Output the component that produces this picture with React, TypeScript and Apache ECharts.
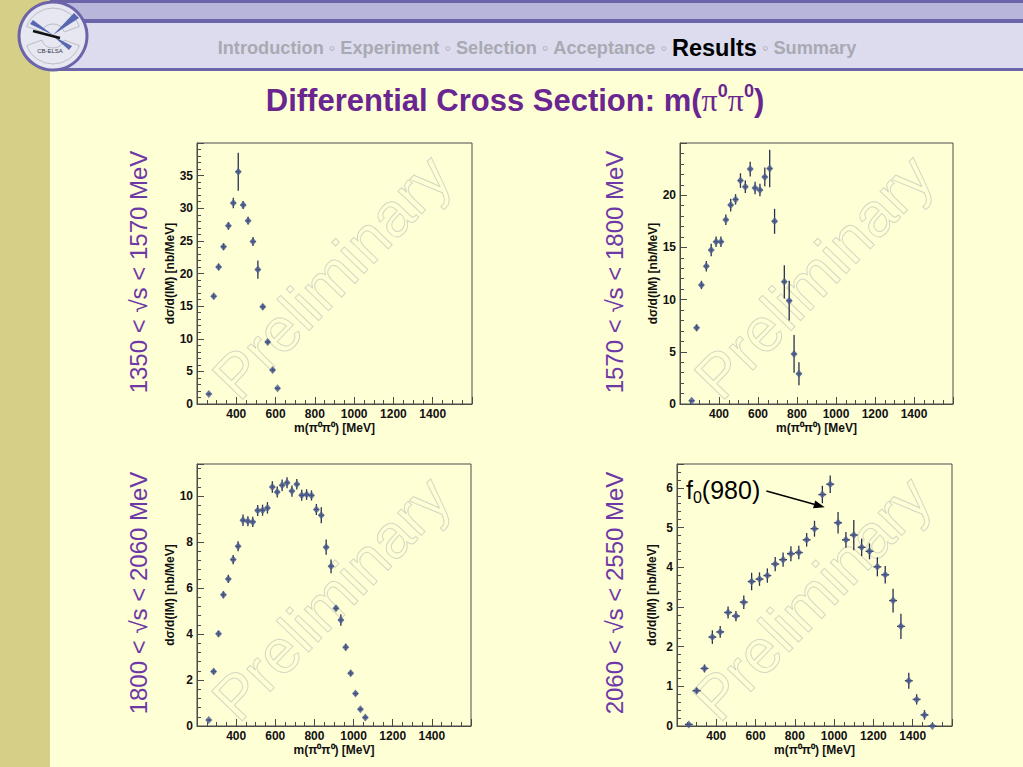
import React, { useEffect, useRef } from "react";
import * as echarts from "echarts";

// ---------- data ----------
const massA = [260, 285, 310, 335, 360, 385, 410, 435, 460, 485, 510, 535, 560, 585, 610];
const valA = [1.54, 16.5, 21.0, 24.1, 27.3, 30.8, 35.6, 30.5, 28.1, 24.9, 20.6, 14.9, 9.5, 5.2, 2.4];
const errA = [0.2, 0.4, 0.5, 0.5, 0.6, 0.8, 2.9, 0.6, 0.6, 0.7, 1.4, 0.4, 0.35, 0.3, 0.2];

const massB = [260, 285, 310, 335, 360, 385, 410, 435, 460, 485, 510, 535, 560, 585, 610, 635, 660, 685, 735, 760, 785, 810];
const valB = [0.32, 7.3, 11.4, 13.2, 14.75, 15.55, 15.55, 17.65, 19.05, 19.6, 21.4, 20.8, 22.5, 20.7, 20.5, 21.75, 22.55, 17.5, 11.7, 9.9, 4.8, 2.9];
const errB = [0.1, 0.3, 0.4, 0.5, 0.6, 0.5, 0.5, 0.5, 0.6, 0.5, 0.7, 0.6, 0.7, 0.6, 0.6, 0.9, 1.8, 1.2, 1.6, 1.9, 1.8, 1.1];

const massC = [260, 285, 310, 335, 360, 385, 410, 435, 460, 485, 510, 535, 560, 585, 610, 635, 660, 685, 710, 735, 760, 785, 810, 835, 860, 885, 910, 935, 960, 985, 1010, 1035, 1060];
const valC = [0.26, 2.37, 4.01, 5.71, 6.4, 7.24, 7.82, 8.95, 8.91, 8.88, 9.38, 9.39, 9.49, 10.4, 10.18, 10.48, 10.58, 10.22, 10.52, 10.04, 10.07, 10.03, 9.42, 9.17, 7.78, 6.95, 5.12, 4.61, 3.43, 2.3, 1.41, 0.73, 0.37];
const errC = [0.05, 0.1, 0.12, 0.15, 0.18, 0.2, 0.22, 0.25, 0.22, 0.22, 0.24, 0.24, 0.25, 0.25, 0.24, 0.25, 0.24, 0.24, 0.23, 0.24, 0.23, 0.22, 0.24, 0.35, 0.33, 0.3, 0.12, 0.25, 0.15, 0.12, 0.1, 0.08, 0.08];

const massD = [260, 300, 340, 380, 420, 460, 500, 540, 580, 620, 660, 700, 740, 780, 820, 860, 900, 940, 980, 1020, 1060, 1100, 1140, 1180, 1220, 1260, 1300, 1340, 1380, 1420, 1460, 1500];
const valD = [0.04, 0.89, 1.45, 2.24, 2.37, 2.86, 2.77, 3.12, 3.64, 3.7, 3.79, 4.08, 4.19, 4.34, 4.37, 4.69, 4.97, 5.83, 6.09, 5.12, 4.69, 4.81, 4.5, 4.4, 4.01, 3.81, 3.16, 2.51, 1.14, 0.67, 0.28, 0.0];
const errD = [0.03, 0.07, 0.1, 0.17, 0.15, 0.15, 0.13, 0.17, 0.22, 0.17, 0.18, 0.18, 0.18, 0.19, 0.17, 0.17, 0.2, 0.22, 0.22, 0.27, 0.2, 0.38, 0.22, 0.2, 0.24, 0.22, 0.3, 0.32, 0.2, 0.13, 0.12, 0.03];

const binHalfWidths = [12.5, 12.5, 12.5, 20];
const energyLabels = ["1350 < √s < 1570 MeV", "1570 < √s < 1800 MeV", "1800 < √s < 2060 MeV", "2060 < √s < 2550 MeV"];
const yMaxes = [40, 25, 11.4, 6.6];
const yIntervals = [5, 5, 2, 1];
const navItems = ["Introduction", "Experiment", "Selection", "Acceptance", "Results", "Summary"];
const activeNav = "Results";
const xAxisTitle = "m(π⁰π⁰) [MeV]";
const yAxisTitle = "dσ/d(IM) [nb/MeV]";
const arrowFrom = [655, 5.92];
const arrowTo = [952, 5.51];

// ---------- styling ----------
const FONT = "'Liberation Sans', Arial, Helvetica, sans-serif";
const grids = [
  { left: 197, top: 143, width: 275, height: 261 },
  { left: 680, top: 143, width: 273, height: 261 },
  { left: 197, top: 464, width: 274, height: 262 },
  { left: 677, top: 464, width: 275, height: 262 },
];
const sideLabelPos = [
  [138, 272],
  [614, 272],
  [138, 593],
  [614, 593],
];
const AXIS_COLOR = "#4a4a4a";
const MARKER = "#4b5b8f";
const ERR = "#283050";
const PURPLE_TITLE = "#6a2690";
const PURPLE_SIDE = "#6e38a6";

export default function App() {
  const ref = useRef<HTMLDivElement>(null);
  useEffect(() => {
    if (!ref.current) return;
    const chart = echarts.init(ref.current, undefined, { renderer: "svg" });

    const panels = [
      { mass: massA, val: valA, err: errA },
      { mass: massB, val: valB, err: errB },
      { mass: massC, val: valC, err: errC },
      { mass: massD, val: valD, err: errD },
    ];

    const labelStyle = { fontFamily: FONT, fontWeight: "bold" as const, fontSize: 12, color: "#111" };

    const xAxes = grids.map((_, i) => ({
      gridIndex: i,
      type: "value" as const,
      min: 200,
      max: 1600,
      interval: 200,
      name: xAxisTitle,
      nameLocation: "middle" as const,
      nameGap: 18,
      nameTextStyle: labelStyle,
      axisLine: { show: true, lineStyle: { color: AXIS_COLOR, width: 1 } },
      axisTick: { show: true, inside: true, length: 7, lineStyle: { color: AXIS_COLOR } },
      minorTick: { show: true, splitNumber: 4, length: 4, lineStyle: { color: AXIS_COLOR } },
      axisLabel: {
        ...labelStyle,
        margin: 4,
        showMinLabel: false,
        showMaxLabel: false,
        formatter: (v: number) => String(v),
      },
      splitLine: { show: false },
    }));

    const yAxes = grids.map((_, i) => ({
      gridIndex: i,
      type: "value" as const,
      min: 0,
      max: yMaxes[i],
      interval: yIntervals[i],
      name: yAxisTitle,
      nameLocation: "middle" as const,
      nameGap: 19,
      nameTextStyle: labelStyle,
      axisLine: { show: true, lineStyle: { color: AXIS_COLOR, width: 1 } },
      axisTick: { show: true, inside: true, length: 7, lineStyle: { color: AXIS_COLOR } },
      minorTick: { show: true, splitNumber: 5, length: 4, lineStyle: { color: AXIS_COLOR } },
      axisLabel: { ...labelStyle, margin: 4, showMaxLabel: false, formatter: (v: number) => String(v) },
      splitLine: { show: false },
    }));

    const series: any[] = [];
    panels.forEach((p, i) => {
      const hw = binHalfWidths[i];
      series.push({
        type: "custom",
        xAxisIndex: i,
        yAxisIndex: i,
        z: 2,
        encode: { x: 0, y: 1 },
        data: p.mass.map((m, k) => [m, p.val[k], p.err[k], hw]),
        renderItem: (params: any, api: any) => {
          const x = api.value(0);
          const y = api.value(1);
          const e = api.value(2);
          const h = api.value(3);
          const t = api.coord([x, y + e]);
          const b = api.coord([x, Math.max(0, y - e)]);
          const l = api.coord([x - h, y]);
          const r = api.coord([x + h, y]);
          const style = { stroke: ERR, lineWidth: 1.3 };
          return {
            type: "group",
            children: [
              { type: "line", shape: { x1: t[0], y1: t[1], x2: b[0], y2: b[1] }, style },
              { type: "line", shape: { x1: l[0], y1: l[1], x2: r[0], y2: r[1] }, style },
            ],
          };
        },
      });
      series.push({
        type: "scatter",
        xAxisIndex: i,
        yAxisIndex: i,
        z: 3,
        symbol: "diamond",
        symbolSize: [7, 8],
        itemStyle: { color: MARKER },
        data: p.mass.map((m, k) => [m, p.val[k]]),
      });
    });

    // annotation arrow (custom series in data coordinates of panel 4)
    series.push({
      type: "custom",
      xAxisIndex: 3,
      yAxisIndex: 3,
      z: 4,
      silent: true,
      data: [[arrowFrom[0], arrowFrom[1], arrowTo[0], arrowTo[1]]],
      encode: { x: [0, 2], y: [1, 3] },
      renderItem: (params: any, api: any) => {
        const a = api.coord([api.value(0), api.value(1)]);
        const b = api.coord([api.value(2), api.value(3)]);
        const dx = b[0] - a[0];
        const dy = b[1] - a[1];
        const len = Math.sqrt(dx * dx + dy * dy);
        const ux = dx / len;
        const uy = dy / len;
        const hl = 11;
        const hw = 4;
        const bx = b[0] - ux * hl;
        const by = b[1] - uy * hl;
        return {
          type: "group",
          children: [
            { type: "line", shape: { x1: a[0], y1: a[1], x2: bx, y2: by }, style: { stroke: "#000", lineWidth: 1.5 } },
            {
              type: "polygon",
              shape: { points: [[b[0], b[1]], [bx - uy * hw, by + ux * hw], [bx + uy * hw, by - ux * hw]] },
              style: { fill: "#000" },
            },
          ],
        };
      },
    });

    const navText = navItems.map((n) => (n === activeNav ? `{k|${n}}` : `{g|${n}}`)).join("{g| ◦ }");

    const graphics: any[] = [
      // left strip
      { type: "rect", shape: { x: 0, y: 0, width: 50, height: 767 }, style: { fill: "#d6cf88" }, silent: true },
      // header bands
      { type: "rect", shape: { x: 50, y: 0, width: 973, height: 3 }, style: { fill: "#6b64a8" }, silent: true },
      { type: "rect", shape: { x: 50, y: 3, width: 973, height: 16 }, style: { fill: "#b9b6dc" }, silent: true },
      { type: "rect", shape: { x: 50, y: 19, width: 973, height: 4 }, style: { fill: "#6b64a8" }, silent: true },
      { type: "rect", shape: { x: 50, y: 23, width: 973, height: 45 }, style: { fill: "#dddcef" }, silent: true },
      { type: "rect", shape: { x: 50, y: 68, width: 973, height: 3 }, style: { fill: "#6b64a8" }, silent: true },
      // logo
      { type: "circle", shape: { cx: 53, cy: 36, r: 34 }, style: { fill: "#e7e7f1", stroke: "#6b64a8", lineWidth: 3 }, silent: true },
      { type: "sector", shape: { cx: 53, cy: 36, r: 28, r0: 12, startAngle: (200 * Math.PI) / 180, endAngle: (340 * Math.PI) / 180 }, style: { fill: "none", stroke: "#b0b0b8", lineWidth: 0.8 }, silent: true },
      { type: "sector", shape: { cx: 53, cy: 36, r: 28, r0: 12, startAngle: (20 * Math.PI) / 180, endAngle: (160 * Math.PI) / 180 }, style: { fill: "none", stroke: "#b0b0b8", lineWidth: 0.8 }, silent: true },
      { type: "polygon", shape: { points: [[53, 35], [74, 13], [79, 18]] }, style: { fill: "#5868b0" }, silent: true },
      { type: "polygon", shape: { points: [[53, 35], [30, 24], [33, 20]] }, style: { fill: "#5868b0" }, silent: true },
      { type: "polygon", shape: { points: [[53, 36], [72, 46], [69, 50]] }, style: { fill: "#5868b0" }, silent: true },
      { type: "line", shape: { x1: 33, y1: 31, x2: 60, y2: 38 }, style: { stroke: "#111", lineWidth: 2.5 }, silent: true },
      { type: "text", x: 50, y: 51, style: { text: "CB-ELSA", fontSize: 6, fontFamily: FONT, fill: "#334", align: "center", textAlign: "center", verticalAlign: "middle", textVerticalAlign: "middle" }, silent: true },
      // navigation
      {
        type: "text",
        x: 537,
        y: 48,
        silent: true,
        style: {
          text: navText,
          align: "center",
          textAlign: "center",
          verticalAlign: "middle",
          textVerticalAlign: "middle",
          rich: {
            g: { fontFamily: FONT, fontWeight: "bold", fontSize: 18.2, fill: "#a9a9b2" },
            k: { fontFamily: FONT, fontWeight: "bold", fontSize: 23.5, fill: "#000" },
          },
        },
      },
      // title
      {
        type: "text",
        x: 515,
        y: 100,
        silent: true,
        style: {
          text: "{t|Differential Cross Section: m(}{p|π}{s|0}{p|π}{s|0}{t|)}",
          align: "center",
          textAlign: "center",
          verticalAlign: "middle",
          textVerticalAlign: "middle",
          rich: {
            t: { fontFamily: FONT, fontWeight: "bold", fontSize: 31, fill: PURPLE_TITLE, lineHeight: 36 },
            p: { fontFamily: "'Liberation Serif', 'DejaVu Serif', serif", fontSize: 32, fill: PURPLE_TITLE, lineHeight: 36 },
            s: { fontFamily: FONT, fontWeight: "bold", fontSize: 18, fill: PURPLE_TITLE, verticalAlign: "top", lineHeight: 22 },
          },
        },
      },
      // annotation label
      {
        type: "text",
        x: 686,
        y: 490,
        silent: true,
        style: {
          text: "{a|f}{b|0}{a|(980)}",
          align: "left",
          textAlign: "left",
          verticalAlign: "middle",
          textVerticalAlign: "middle",
          rich: {
            a: { fontFamily: FONT, fontSize: 25, fill: "#000", lineHeight: 30 },
            b: { fontFamily: FONT, fontSize: 16, fill: "#000", verticalAlign: "bottom", lineHeight: 16 },
          },
        },
      },
    ];

    grids.forEach((g, i) => {
      graphics.push({
        type: "text",
        x: sideLabelPos[i][0],
        y: sideLabelPos[i][1],
        rotation: Math.PI / 2,
        silent: true,
        style: {
          text: energyLabels[i],
          fontFamily: FONT,
          fontSize: 24,
          fill: PURPLE_SIDE,
          align: "center",
          textAlign: "center",
          verticalAlign: "middle",
          textVerticalAlign: "middle",
        },
      });
      graphics.push({
        type: "text",
        x: g.left + g.width / 2 - 3,
        y: g.top + g.height / 2 + 3,
        rotation: (46 * Math.PI) / 180,
        silent: true,
        z: -1,
        style: {
          text: "Preliminary",
          fontFamily: FONT,
          fontSize: 62,
          fill: "none",
          stroke: "#d6d6c4",
          lineWidth: 1,
          align: "center",
          textAlign: "center",
          verticalAlign: "middle",
          textVerticalAlign: "middle",
        },
      });
    });

    chart.setOption({
      animation: false,
      backgroundColor: "#ffffd6",
      grid: grids.map((g) => ({
        ...g,
        show: true,
        borderColor: AXIS_COLOR,
        borderWidth: 1,
        backgroundColor: "transparent",
        containLabel: false,
      })),
      xAxis: xAxes,
      yAxis: yAxes,
      series,
      graphic: { elements: graphics },
    });

    return () => chart.dispose();
  }, []);

  return <div ref={ref} style={{ position: "fixed", left: 0, top: 0, width: 1023, height: 767 }} />;
}
